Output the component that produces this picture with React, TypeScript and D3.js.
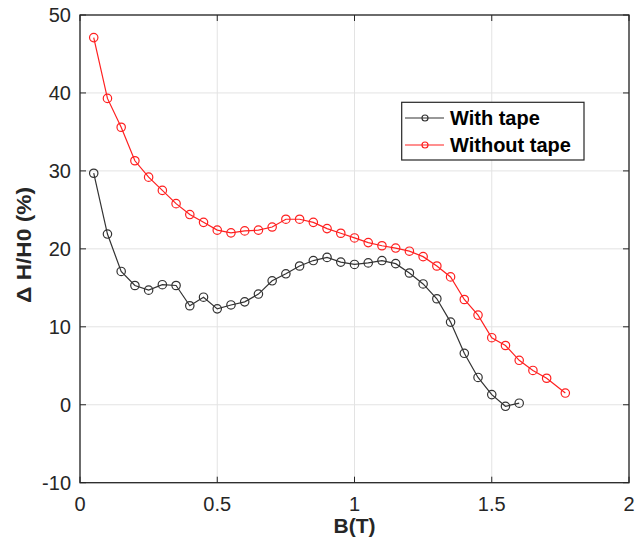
import React from "react";
import * as d3 from "d3";

const withTapeX = [0.05,0.1,0.15,0.2,0.25,0.3,0.35,0.4,0.45,0.5,0.55,0.6,0.65,0.7,0.75,0.8,0.85,0.9,0.95,1.0,1.05,1.1,1.15,1.2,1.25,1.3,1.35,1.4,1.45,1.5,1.55,1.6];
const withTapeY = [29.7,21.9,17.1,15.3,14.7,15.4,15.3,12.7,13.8,12.3,12.8,13.2,14.2,15.9,16.8,17.8,18.5,18.9,18.3,18.0,18.2,18.5,18.1,16.9,15.5,13.6,10.6,6.6,3.5,1.3,-0.2,0.2];
const withoutTapeX = [0.05,0.1,0.15,0.2,0.25,0.3,0.35,0.4,0.45,0.5,0.55,0.6,0.65,0.7,0.75,0.8,0.85,0.9,0.95,1.0,1.05,1.1,1.15,1.2,1.25,1.3,1.35,1.4,1.45,1.5,1.55,1.6,1.65,1.7,1.768];
const withoutTapeY = [47.1,39.3,35.6,31.3,29.2,27.5,25.8,24.4,23.4,22.4,22.05,22.3,22.4,22.8,23.8,23.8,23.4,22.6,22.0,21.4,20.8,20.4,20.1,19.7,19.0,17.8,16.4,13.5,11.5,8.6,7.6,5.7,4.4,3.4,1.5];
const xTicks = [0, 0.5, 1, 1.5, 2];
const xTickLabels = ["0", "0.5", "1", "1.5", "2"];
const yTicks = [-10, 0, 10, 20, 30, 40, 50];
const yTickLabels = ["-10", "0", "10", "20", "30", "40", "50"];
const seriesNames = ["With tape", "Without tape"];
const seriesColors = ["#333333", "#ff2020"];

export default function App() {
  const W = 637, H = 554;
  const left = 80, right = 629, top = 15, bottom = 482.7;
  const x = d3.scaleLinear().domain([0, 2]).range([left, right]);
  const y = d3.scaleLinear().domain([-10, 50]).range([bottom, top]);
  const line = d3.line<[number, number]>().x(d => x(d[0])).y(d => y(d[1]));
  const series = [
    { name: seriesNames[0], color: seriesColors[0], pts: withTapeX.map((v, i) => [v, withTapeY[i]] as [number, number]) },
    { name: seriesNames[1], color: seriesColors[1], pts: withoutTapeX.map((v, i) => [v, withoutTapeY[i]] as [number, number]) },
  ];
  const axisColor = "#262626";
  const font = "'Liberation Sans', Arial, sans-serif";
  const tickLen = 6;
  const lgX = 401.7, lgY = 102.3, lgW = 182.3, lgH = 57.7;
  return (
    <svg width={W} height={H} style={{ position: "absolute", left: 0, top: 0, background: "#fff" }} fontFamily={font}>
      <rect x={0} y={0} width={W} height={H} fill="#fff" />
      {/* grid */}
      {xTicks.map((t, i) => (
        <line key={"gx" + i} x1={x(t)} x2={x(t)} y1={top} y2={bottom} stroke="#e3e3e3" strokeWidth={1} />
      ))}
      {yTicks.map((t, i) => (
        <line key={"gy" + i} x1={left} x2={right} y1={y(t)} y2={y(t)} stroke="#e3e3e3" strokeWidth={1} />
      ))}
      {/* series */}
      {series.map((s, si) => (
        <g key={"s" + si}>
          <path d={line(s.pts) || ""} fill="none" stroke={s.color} strokeWidth={1.2} />
          {s.pts.map((p, pi) => (
            <circle key={pi} cx={x(p[0])} cy={y(p[1])} r={4.2} fill="none" stroke={s.color} strokeWidth={1.2} />
          ))}
        </g>
      ))}
      {/* ticks */}
      {xTicks.map((t, i) => (
        <g key={"tx" + i}>
          <line x1={x(t)} x2={x(t)} y1={bottom} y2={bottom - tickLen} stroke={axisColor} />
          <line x1={x(t)} x2={x(t)} y1={top} y2={top + tickLen} stroke={axisColor} />
          <text x={x(t)} y={bottom + 28} textAnchor="middle" fontSize={20} fill={axisColor}>{xTickLabels[i]}</text>
        </g>
      ))}
      {yTicks.map((t, i) => (
        <g key={"ty" + i}>
          <line x1={left} x2={left + tickLen} y1={y(t)} y2={y(t)} stroke={axisColor} />
          <line x1={right} x2={right - tickLen} y1={y(t)} y2={y(t)} stroke={axisColor} />
          <text x={left - 9} y={y(t) + 7} textAnchor="end" fontSize={20} fill={axisColor}>{yTickLabels[i]}</text>
        </g>
      ))}
      {/* box */}
      <rect x={left} y={top} width={right - left} height={bottom - top} fill="none" stroke={axisColor} strokeWidth={1.3} />
      {/* axis labels */}
      <text x={(left + right) / 2} y={533} textAnchor="middle" fontSize={21} fontWeight="bold" fill={axisColor}>B(T)</text>
      <text transform={`translate(31,${245}) rotate(-90)`} textAnchor="middle" fontSize={21} fontWeight="bold" fill={axisColor} textLength={116} lengthAdjust="spacingAndGlyphs">Δ H/H0 (%)</text>
      {/* legend */}
      <rect x={lgX} y={lgY} width={lgW} height={lgH} fill="#fff" stroke={axisColor} strokeWidth={1.2} />
      {series.map((s, si) => {
        const ly = 118 + si * 27;
        return (
          <g key={"lg" + si}>
            <line x1={405} x2={444} y1={ly} y2={ly} stroke={s.color} strokeWidth={1.2} />
            <circle cx={425} cy={ly} r={3} fill="none" stroke={s.color} strokeWidth={1.2} />
            <text x={450} y={ly + 7} fontSize={20} fontWeight="bold" fill="#000">{s.name}</text>
          </g>
        );
      })}
    </svg>
  );
}
